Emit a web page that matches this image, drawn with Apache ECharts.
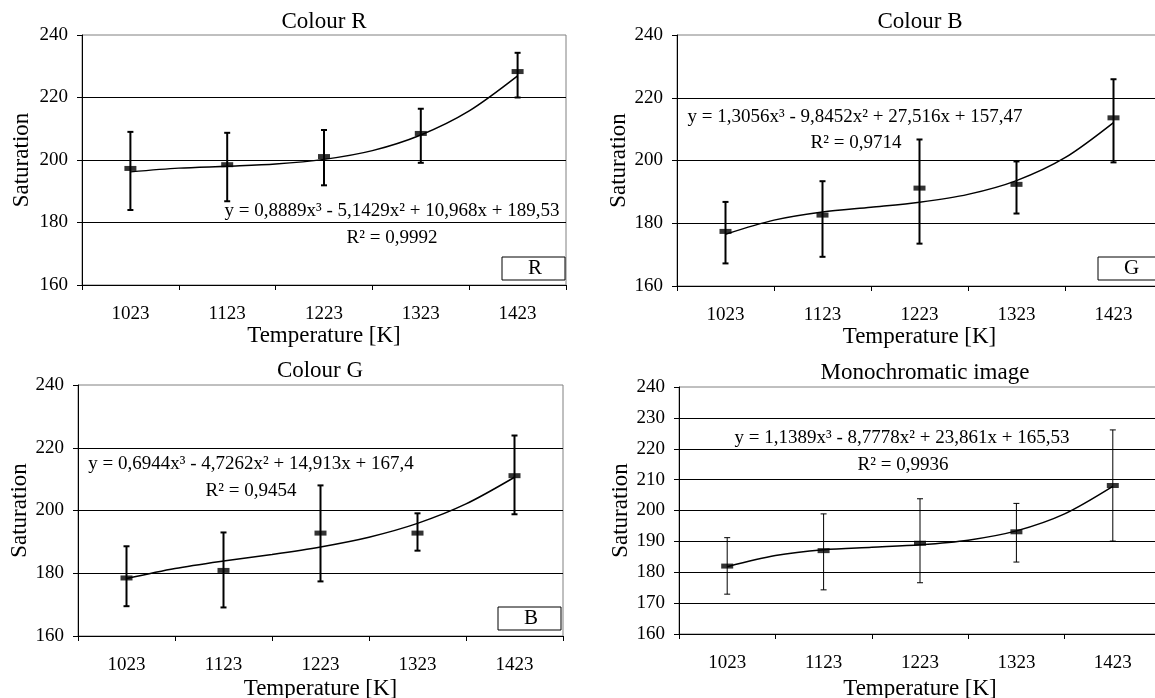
<!DOCTYPE html>
<html>
<head>
<meta charset="utf-8">
<script src="https://cdn.jsdelivr.net/npm/echarts@6/dist/echarts.min.js"></script>
<style>
  html, body { margin: 0; padding: 0; background: #fff; }
  #main { width: 1155px; height: 698px; }
</style>
</head>
<body>
<div id="main"></div>
<script>
// temperatures on the x axis
var categories = ['1023', '1123', '1223', '1323', '1423'];
// trend curves are read every half step (0.5 = centre of first category)
var trendPos = [0.5, 1, 1.5, 2, 2.5, 3, 3.5, 4, 4.5];

// Colour R
var rMean = [197.3, 198.5, 201.1, 208.5, 228.3];
var rHigh = [209.0, 208.7, 209.6, 216.4, 234.3];
var rLow = [184.0, 186.8, 191.9, 199.1, 220.0];
var rTrend = [196.2, 197.4, 198.0, 198.7, 200.2, 203.0, 208.0, 215.7, 226.9];

// Colour B (legend G)
var bMean = [177.4, 182.6, 191.2, 192.4, 213.6];
var bHigh = [186.8, 193.4, 206.7, 199.7, 225.9];
var bLow = [167.2, 169.3, 173.5, 183.1, 199.4];
var bTrend = [176.5, 181.0, 183.6, 185.1, 186.7, 189.2, 193.6, 200.9, 212.1];

// Colour G (legend B)
var gMean = [178.5, 180.9, 192.8, 192.8, 211.1];
var gHigh = [188.6, 193.0, 208.0, 199.1, 223.9];
var gLow = [169.5, 169.1, 177.4, 187.2, 198.8];
var gTrend = [178.3, 181.5, 183.9, 186.0, 188.4, 191.5, 195.9, 202.1, 210.6];

// Monochromatic image
var mMean = [182.0, 187.0, 189.4, 193.1, 208.1];
var mHigh = [191.2, 198.9, 203.8, 202.3, 226.1];
var mLow = [172.9, 174.3, 176.6, 183.3, 190.1];
var mTrend = [181.8, 185.4, 187.3, 188.1, 188.9, 190.4, 193.4, 198.9, 207.8];

var FONT = 'Liberation Serif';

var chart = echarts.init(document.getElementById('main'));

function makeGrid(left, top, width, height) {
  return {
    left: left, top: top, width: width, height: height,
    outerBoundsMode: 'none', containLabel: false,
    show: true, borderColor: '#808080', borderWidth: 1
  };
}

function makeX(gi, nameGap) {
  return {
    type: 'category', gridIndex: gi, data: categories, boundaryGap: true,
    name: 'Temperature [K]', nameLocation: 'middle', nameGap: nameGap,
    nameTextStyle: { fontFamily: FONT, fontSize: 23, color: '#000' },
    axisLine: { lineStyle: { color: '#000', width: 1 } },
    axisTick: { show: true, alignWithLabel: false, length: 5, lineStyle: { color: '#000' } },
    axisLabel: { fontFamily: FONT, fontSize: 19, color: '#000', margin: 20, interval: 0 },
    splitLine: { show: false }
  };
}

// hidden continuous axis sharing the grid, used only by the trend curve
function makeTrendX(gi) {
  return { type: 'value', gridIndex: gi, min: 0, max: 5, show: false };
}

function makeY(gi, step, nameGap) {
  return {
    type: 'value', gridIndex: gi, min: 160, max: 240, interval: step,
    name: 'Saturation', nameLocation: 'middle', nameGap: nameGap,
    nameTextStyle: { fontFamily: FONT, fontSize: 23, color: '#000' },
    axisLine: { show: true, lineStyle: { color: '#000', width: 1 } },
    axisTick: { show: true, length: 5, lineStyle: { color: '#000' } },
    axisLabel: { fontFamily: FONT, fontSize: 19, color: '#000', margin: 14 },
    splitLine: { show: true, showMaxLine: false, lineStyle: { color: '#000', width: 1 } }
  };
}

function errorBars(name, gi, low, high, lw) {
  return {
    type: 'custom', name: name, xAxisIndex: gi, yAxisIndex: gi, z: 3,
    data: categories.map(function (c, i) { return [i, low[i], high[i]]; }),
    encode: { x: 0, y: [1, 2] },
    renderItem: function (params, api) {
      var x = api.value(0);
      var lo = api.coord([x, api.value(1)]);
      var hi = api.coord([x, api.value(2)]);
      var cw = 3;
      var st = { stroke: '#000', lineWidth: lw };
      return {
        type: 'group',
        children: [
          { type: 'line', shape: { x1: lo[0], y1: lo[1], x2: hi[0], y2: hi[1] }, style: st },
          { type: 'line', shape: { x1: hi[0] - cw, y1: hi[1], x2: hi[0] + cw, y2: hi[1] }, style: st },
          { type: 'line', shape: { x1: lo[0] - cw, y1: lo[1], x2: lo[0] + cw, y2: lo[1] }, style: st }
        ]
      };
    }
  };
}

function markers(name, gi, values) {
  return {
    type: 'scatter', name: name, xAxisIndex: gi, yAxisIndex: gi, z: 5,
    symbol: 'rect', symbolSize: [12, 5],
    itemStyle: { color: '#000' },
    data: values
  };
}

function trend(name, gi, values) {
  return {
    type: 'line', name: name, xAxisIndex: gi + 4, yAxisIndex: gi, z: 4,
    smooth: 0.3, showSymbol: false,
    lineStyle: { color: '#000', width: 1.5 },
    data: trendPos.map(function (p, i) { return [p, values[i]]; })
  };
}

function legendBox(name, left, top) {
  return {
    data: [name], left: left, top: top, orient: 'horizontal',
    selectedMode: false, backgroundColor: '#fff',
    borderColor: '#000', borderWidth: 1, borderRadius: 0,
    padding: [1, 23, 1, 5], itemWidth: 16, itemHeight: 10,
    itemStyle: { color: 'rgba(0,0,0,0)', borderWidth: 0 },
    textStyle: { fontFamily: FONT, fontSize: 21, color: '#000' }
  };
}

function label(text, x, y, size) {
  return {
    type: 'text', x: x, y: y, z: 100,
    style: { text: text, fontFamily: FONT, fontSize: size, fill: '#000', align: 'center', verticalAlign: 'middle' }
  };
}

var option = {
  backgroundColor: '#fff',
  animation: false,
  grid: [
    makeGrid(82, 35, 484, 250),
    makeGrid(677, 35, 485, 251),
    makeGrid(78, 385, 485, 251),
    makeGrid(679, 387, 482, 247)
  ],
  xAxis: [
    makeX(0, 38), makeX(1, 38), makeX(2, 41), makeX(3, 43),
    makeTrendX(0), makeTrendX(1), makeTrendX(2), makeTrendX(3)
  ],
  yAxis: [makeY(0, 20, 49), makeY(1, 20, 45), makeY(2, 20, 47), makeY(3, 10, 47)],
  legend: [
    legendBox('R', 502, 257),
    legendBox('G', 1098, 257),
    legendBox('B', 498, 607)
  ],
  graphic: [
    label('Colour R', 324, 22, 23),
    label('Colour B', 920, 22, 23),
    label('Colour G', 320, 371, 23),
    label('Monochromatic image', 925, 373, 23),
    label('y = 0,8889x\u00b3 - 5,1429x\u00b2 + 10,968x + 189,53', 392, 211, 19),
    label('R\u00b2 = 0,9992', 392, 238, 19),
    label('y = 1,3056x\u00b3 - 9,8452x\u00b2 + 27,516x + 157,47', 855, 117, 19),
    label('R\u00b2 = 0,9714', 856, 143, 19),
    label('y = 0,6944x\u00b3 - 4,7262x\u00b2 + 14,913x + 167,4', 251, 464, 19),
    label('R\u00b2 = 0,9454', 251, 491, 19),
    label('y = 1,1389x\u00b3 - 8,7778x\u00b2 + 23,861x + 165,53', 902, 438, 19),
    label('R\u00b2 = 0,9936', 903, 465, 19)
  ],
  series: [
    errorBars('errR', 0, rLow, rHigh, 2),
    trend('trendR', 0, rTrend),
    markers('R', 0, rMean),

    errorBars('errG', 1, bLow, bHigh, 2),
    trend('trendG', 1, bTrend),
    markers('G', 1, bMean),

    errorBars('errB', 2, gLow, gHigh, 2),
    trend('trendB', 2, gTrend),
    markers('B', 2, gMean),

    errorBars('errM', 3, mLow, mHigh, 1),
    trend('trendM', 3, mTrend),
    markers('Mono', 3, mMean)
  ]
};

chart.setOption(option);
</script>
</body>
</html>
